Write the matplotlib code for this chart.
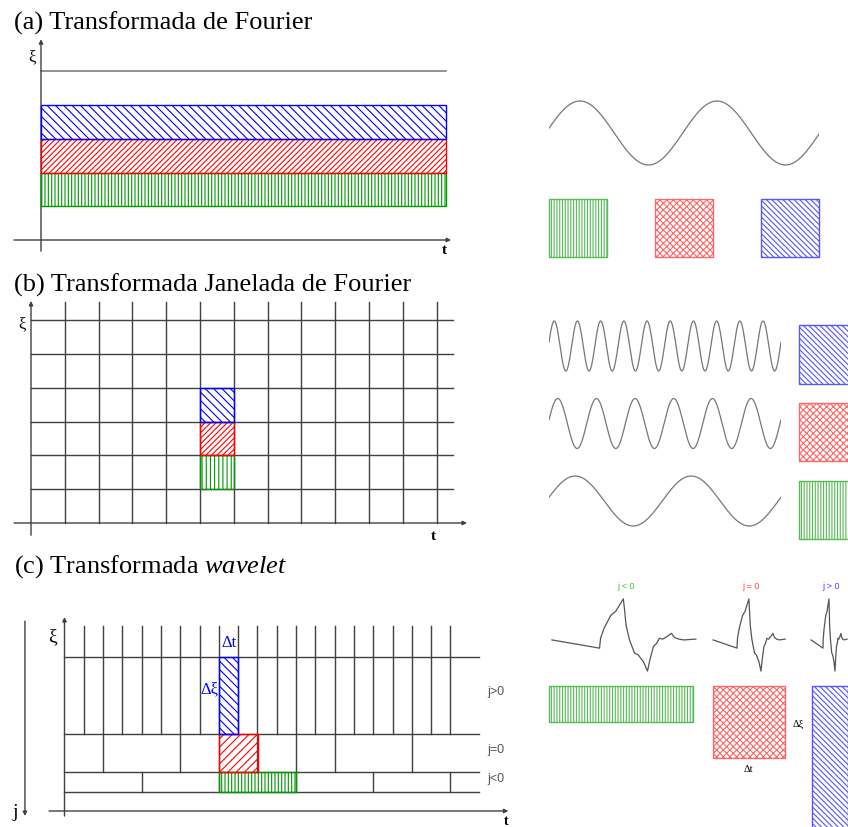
import numpy as np
import matplotlib
matplotlib.use("Agg")
import matplotlib.pyplot as plt
from matplotlib.patches import Rectangle

plt.rcParams["font.family"] = ["Liberation Serif", "DejaVu Serif"]
plt.rcParams["mathtext.fontset"] = "custom"
plt.rcParams["mathtext.rm"] = "Liberation Serif"
plt.rcParams["mathtext.it"] = "Liberation Serif:italic"
plt.rcParams["hatch.linewidth"] = 0.8

W, H = 848, 828

# ---- dados ----
titulos = ["(a) Transformada de Fourier",
           "(b) Transformada Janelada de Fourier",
           r"(c) Transformada $\mathit{wavelet}$"]

# (a) faixas de frequência (ξ inferior, largura 1), ordem verde/vermelho/azul
fourier_faixas = [1, 2, 3]
fourier_tmax = 12
fourier_linha = 5

# (b) grade tempo-frequência
stft_ncols = 12
stft_nlins = 6
stft_t = 5
stft_xi = [1, 2, 3]

# (c) grade wavelet
wav_niveis = [1, 2, 4, 8]
wav_cortes_jmaior = list(range(1, 21))
wav_cortes_j0 = [2, 6, 8, 10, 12, 14, 18]
wav_cortes_jmenor = [4, 8, 12, 16, 20]
wav_celulas_t = [8, 8, 8]
wav_celulas_xi = [1, 2, 4]
wav_celulas_dt = [4, 2, 1]
wav_celulas_dxi = [1, 2, 4]
wav_rotulos = ["j<0", "j=0", "j>0"]

# ondas à direita
seno_a_ciclos = 1.97
janelas_ciclos = [10, 6, 2]
fase = 0.15

# forma da wavelet (tempo normalizado, amplitude)
wavelet_s = [0, 0.331, 0.338, 0.362, 0.409, 0.444, 0.496, 0.504, 0.515, 0.539,
             0.574, 0.598, 0.634, 0.664, 0.681, 0.705, 0.728, 0.747, 0.771,
             0.799, 0.830, 0.851, 0.882, 0.917, 1.0]
wavelet_v = [0, -0.2, 0.04, 0.28, 0.6, 0.7, 1.0, 0.76, 0.36, 0, -0.32, -0.36,
             -0.52, -0.76, -0.48, -0.16, -0.08, 0.04, 0.02, 0.08, 0.16, 0.06,
             0.02, 0, 0.02]
wavelet_escalas = [4, 2, 1]
wavelet_textos = ["j < 0", "j = 0", "j > 0"]

# ---- estilos ----
cores = ["#009900", "#ff0000", "#0000ff"]
hachuras_a = ["|||||", "//////", "\\\\\\\\"]
hachuras_b = ["||||", "//////", "\\\\\\\\"]
hachuras_c = ["|||||", "////", "\\\\\\\\"]
cores_claras = ["#55bb55", "#ff6666", "#5555ff"]
hachuras_dir = ["||||||", "xxxxx", "\\\\\\\\\\\\"]
cores_txt = ["#33cc33", "#ff4444", "#4444ff"]
linha = "#404040"
onda = "#777777"

fig = plt.figure(figsize=(W / 100, H / 100), dpi=100)


def caixa(ox, oy, ux, uy, xlim, ylim):
    # eixos cuja origem (0,0) cai no pixel (ox, oy), com ux/uy pixels por unidade
    x0 = ox + xlim[0] * ux
    x1 = ox + xlim[1] * ux
    ytop = oy - ylim[1] * uy
    ybot = oy - ylim[0] * uy
    ax = fig.add_axes([x0 / W, 1 - ybot / H, (x1 - x0) / W, (ybot - ytop) / H])
    ax.set_xlim(*xlim)
    ax.set_ylim(*ylim)
    ax.axis("off")
    return ax


def seta(ax, p0, p1, cor=linha):
    ax.annotate("", xy=p1, xytext=p0, annotation_clip=False,
                arrowprops=dict(arrowstyle="-|>", color=cor, lw=1, shrinkA=0,
                                shrinkB=0, mutation_scale=6))


def ret(ax, x, y, w, h, cor, hachura, z=3):
    ax.add_patch(Rectangle((x, y), w, h, facecolor="none", edgecolor=cor,
                           hatch=hachura, lw=1, zorder=z, clip_on=False))


# títulos
for titulo, y in zip(titulos, [30, 292, 573]):
    fig.text(14 / W, 1 - y / H, titulo, fontsize=19, va="baseline", ha="left")

# ---- (a) ----
ax = caixa(41, 241, 33.75, 33.75, (-0.85, 12.4), (-0.4, 6.0))
seta(ax, (-0.8, 0), (fourier_tmax + 0.15, 0))
seta(ax, (0, -0.33), (0, 5.95))
ax.plot([0, fourier_tmax], [fourier_linha] * 2, color="#808080", lw=1.2)
for xi, c, h in zip(fourier_faixas, cores, hachuras_a):
    ret(ax, 0, xi, fourier_tmax, 1, c, h)
ax.text(-0.27, 5.45, "ξ", fontsize=12, ha="center", va="center")
ax.text(fourier_tmax - 0.05, -0.27, "t", fontsize=11, ha="center", va="center",
        fontweight="bold")

# ---- (b) ----
ax = caixa(31, 524, 33.8, 33.8, (-0.55, 13.0), (-0.45, 6.65))
seta(ax, (-0.5, 0), (stft_ncols + 0.9, 0))
seta(ax, (0, -0.36), (0, stft_nlins + 0.57))
for k in range(1, stft_ncols + 1):
    ax.plot([k, k], [0, stft_nlins + 0.54], color=linha, lw=1)
for k in range(1, stft_nlins + 1):
    ax.plot([0, stft_ncols + 0.5], [k, k], color=linha, lw=1)
for xi, c, h in zip(stft_xi, cores, hachuras_b):
    ret(ax, stft_t, xi, 1, 1, c, h)
ax.text(-0.27, 5.9, "ξ", fontsize=12, ha="center", va="center")
ax.text(stft_ncols - 0.1, -0.36, "t", fontsize=11, ha="center", va="center",
        fontweight="bold")

# ---- (c) ----
ax = caixa(64.5, 812, 19.3, 19.3, (-3.2, 23.3), (-0.9, 10.2))
tfim = 21.5
seta(ax, (-0.8, 0), (23.0, 0))
seta(ax, (0, -0.26), (0, 10.05))
seta(ax, (-2.05, 9.84), (-2.05, -0.26))
for nv in wav_niveis:
    ax.plot([0, tfim], [nv, nv], color=linha, lw=1)
for k in wav_cortes_jmaior:
    ax.plot([k, k], [wav_niveis[2], 9.6], color=linha, lw=1)
for k in wav_cortes_j0:
    ax.plot([k, k], [wav_niveis[1], wav_niveis[2]], color=linha, lw=1)
for k in wav_cortes_jmenor:
    ax.plot([k, k], [wav_niveis[0], wav_niveis[1]], color=linha, lw=1)
for t0, xi, dt, dxi, c, h in zip(wav_celulas_t, wav_celulas_xi, wav_celulas_dt,
                                 wav_celulas_dxi, cores, hachuras_c):
    ret(ax, t0, xi, dt, dxi, c, h)
for rot, nv0, nv1 in zip(wav_rotulos, wav_niveis[:-1], wav_niveis[1:]):
    ax.text(tfim + 0.4, (nv0 + nv1) / 2 + 0.2, rot, fontsize=9, color="#555555",
            family="Liberation Sans", ha="left", va="center")
ax.text(8.5, 8.75, "Δt", fontsize=12, color="#0000ff", ha="center", va="center")
ax.text(7.95, 6.35, "Δξ", fontsize=12, color="#0000ff", ha="right", va="center")
ax.text(-0.6, 9.1, "ξ", fontsize=14, ha="center", va="center")
ax.text(22.9, -0.5, "t", fontsize=10, ha="center", va="center", fontweight="bold")
ax.text(-2.55, -0.05, "j", fontsize=14, ha="center", va="center")

# ---- direita (a) ----
ax = caixa(549, 134, 137, 32, (0, seno_a_ciclos), (-1.15, 1.15))
tt = np.linspace(0, seno_a_ciclos, 500)
ax.plot(tt, np.sin(2 * np.pi * tt + fase), color=onda, lw=0.9)

ax = caixa(549, 258, 58, 58, (0, 4.66), (0, 1))
for x, c, h in zip([0, 1.83, 3.66], cores_claras, hachuras_dir):
    ret(ax, x, 0, 1, 1, c, h)

# ---- direita (b) ----
ax = caixa(549, 347, 232, 25, (0, 1), (-7.4, 1.15))
tt = np.linspace(0, 1, 1500)
for i, f in enumerate(janelas_ciclos):
    ax.plot(tt, np.sin(2 * np.pi * f * tt + fase) - 3.1 * i, color=onda, lw=0.9)

ax = caixa(799, 540, 58.5, 58.5, (0, 1), (0, 3.65))
for y, c, h in zip([0, 1.325, 2.65], cores_claras, hachuras_dir):
    ret(ax, 0, y, 1, 1, c, h)

# ---- direita (c) ----
ax = caixa(549, 687, 36, 36, (0, 8.4), (-4.1, 3.3))
ws = np.array(wavelet_s)
wv = np.array(wavelet_v)
for x0, esc, c, h, ct, txt in zip([0.08, 4.56, 7.28], wavelet_escalas,
                                  cores_claras, hachuras_dir, cores_txt,
                                  wavelet_textos):
    ax.plot(x0 + ws * esc, 1.28 + 1.14 * wv, color="#555555", lw=0.9,
            clip_on=False)
    ax.text(x0 + esc / 2 + 0.06, 2.8, txt, fontsize=6.5, color=ct,
            family="Liberation Sans", ha="center", va="center")
for x0, esc, c, h in zip([0, 4.56, 7.3], wavelet_escalas, cores_claras, hachuras_dir):
    ret(ax, x0, -4 / esc, esc, 4 / esc, c, h)
ax.text(6.92, -1.05, "Δξ", fontsize=7.5, ha="center", va="center")
ax.text(5.53, -2.28, "Δt", fontsize=7.5, ha="center", va="center")

fig.savefig("out.png", dpi=100)
